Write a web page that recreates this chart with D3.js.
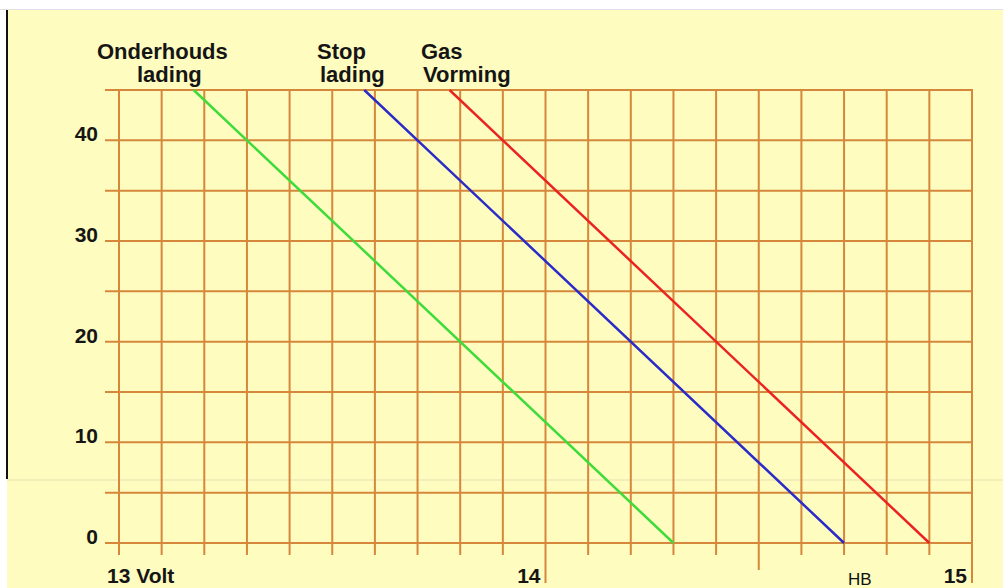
<!DOCTYPE html>
<html>
<head>
<meta charset="utf-8">
<script src="https://cdn.jsdelivr.net/npm/d3@7"></script>
<style>
  html, body { margin: 0; padding: 0; background: #fff; }
  svg { display: block; font-family: "Liberation Sans", Arial, sans-serif; }
</style>
</head>
<body>
<div id="chart"></div>
<script>
// Data
const voltTicks = d3.range(0, 21).map(i => +(13 + i * 0.1).toFixed(1))  // vertical grid, 13.0 .. 15.0
const tempTicks = [0, 5, 10, 15, 20, 25, 30, 35, 40, 45]
const tempLabels = [0, 10, 20, 30, 40]
const voltLabels = [{ v: 13, text: '13 Volt' }, { v: 14, text: '14' }, { v: 15, text: '15' }]

const seriesNames = [['Onderhouds', 'lading'], ['Stop', 'lading'], ['Gas', 'Vorming']]
// each line: [temperature, voltage]
const onderhoudsLading = [[45, 13.175], [40, 13.3], [0, 14.3]]
const stopLading = [[45, 13.575], [40, 13.7], [0, 14.7]]
const gasVorming = [[45, 13.775], [40, 13.9], [0, 14.9]]
const seriesData = [onderhoudsLading, stopLading, gasVorming]
const seriesColors = ['#3ddc3a', '#2b2bc8', '#ea2422']

function draw() {
  const dimensions = { width: 1003, height: 588 }

  const svg = d3.select('#chart')
    .append('svg')
    .attr('width', dimensions.width)
    .attr('height', dimensions.height)

  // background: yellow sheet with a white edge top/left
  svg.append('rect')
    .attr('x', 7).attr('y', 10)
    .attr('width', dimensions.width - 7).attr('height', dimensions.height - 10)
    .attr('fill', '#fffcc0')
  svg.append('line')
    .attr('x1', 0).attr('x2', dimensions.width)
    .attr('y1', 9.5).attr('y2', 9.5)
    .attr('stroke', '#e4e0ea').attr('stroke-width', 1)
  svg.append('line')
    .attr('x1', 7).attr('x2', dimensions.width)
    .attr('y1', 480).attr('y2', 480)
    .attr('stroke', '#efe8b4').attr('stroke-width', 1.5)
  svg.append('line')
    .attr('x1', 7).attr('x2', 7)
    .attr('y1', 10).attr('y2', 479)
    .attr('stroke', '#111').attr('stroke-width', 2)

  // Scales
  const xScale = d3.scaleLinear().domain([13, 15]).range([119, 972])
  const yScale = d3.scaleLinear().domain([0, 45]).range([543, 90])

  const gridColor = '#d5883c'

  // horizontal grid
  svg.append('g')
    .selectAll('line')
    .data(tempTicks)
    .join('line')
    .attr('x1', 105)
    .attr('x2', xScale(15))
    .attr('y1', d => yScale(d))
    .attr('y2', d => yScale(d))
    .attr('stroke', gridColor)
    .attr('stroke-width', 2)

  // vertical grid (lines run on below the 0 line as ticks)
  svg.append('g')
    .selectAll('line')
    .data(voltTicks)
    .join('line')
    .attr('x1', d => xScale(d))
    .attr('x2', d => xScale(d))
    .attr('y1', yScale(45) - 1)
    .attr('y2', d => (d === 14 || d === 15) ? 583 : d === 14.5 ? 570 : yScale(0) + 12)
    .attr('stroke', gridColor)
    .attr('stroke-width', 2)

  // y labels
  svg.append('g')
    .selectAll('text')
    .data(tempLabels)
    .join('text')
    .attr('x', 98)
    .attr('y', d => yScale(d) + 1)
    .attr('text-anchor', 'end')
    .attr('font-size', 21)
    .attr('font-weight', 'bold')
    .attr('fill', '#151515')
    .text(d => d)

  // x labels
  svg.append('g')
    .selectAll('text')
    .data(voltLabels)
    .join('text')
    .attr('x', d => d.v === 13 ? xScale(d.v) - 12 : xScale(d.v) - 5)
    .attr('y', 583)
    .attr('text-anchor', d => d.v === 13 ? 'start' : 'end')
    .attr('font-size', 21)
    .attr('font-weight', 'bold')
    .attr('fill', '#151515')
    .text(d => d.text)

  // series lines
  const lineGen = d3.line()
    .x(d => xScale(d[1]))
    .y(d => yScale(d[0]))

  svg.append('g')
    .selectAll('path')
    .data(seriesData)
    .join('path')
    .attr('d', lineGen)
    .attr('fill', 'none')
    .attr('stroke', (d, i) => seriesColors[i])
    .attr('stroke-width', 2.5)

  // series names above the grid
  const namePos = [[97, 137], [317, 320], [421, 423]]  // x of first and second line
  seriesNames.forEach((lines, i) => {
    lines.forEach((txt, j) => {
      svg.append('text')
        .attr('x', namePos[i][j])
        .attr('y', 59 + j * 23)
        .attr('font-size', 22)
        .attr('font-weight', 'bold')
        .attr('fill', '#151515')
        .text(txt)
    })
  })

  // initials
  svg.append('text')
    .attr('x', 848)
    .attr('y', 585)
    .attr('font-size', 17)
    .attr('fill', '#111')
    .text('HB')
}
draw()
</script>
</body>
</html>
